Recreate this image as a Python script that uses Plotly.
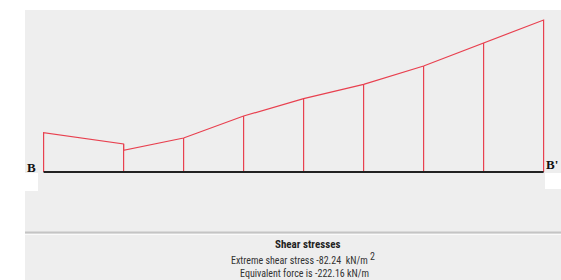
import plotly.graph_objects as go

# Data
positions = [0, 4, 4, 7, 10, 13, 16, 19, 22, 25]          # station along B-B' (m, approx.)
shear = [-21.27, -15.15, -11.74, -18.40, -30.30, -39.66, -47.45, -57.35, -69.80, -82.24]  # kN/m2
stations = [0, 4, 7, 10, 13, 16, 19, 22, 25]
title_text = "Shear stresses"
line2 = "Extreme shear stress -82.24  kN/m <sup><span style='font-size:10px'>2</span></sup>"
line3 = "Equivalent force is -222.16 kN/m"

W, H = 561, 280
red = "#e8404f"

fig = go.Figure()

# profile outline
ox = [positions[0]] + positions + [positions[-1]]
oy = [0] + shear + [0]
fig.add_trace(go.Scatter(x=ox, y=oy, mode="lines", line=dict(color=red, width=1.2),
                         hoverinfo="skip", showlegend=False))

# vertical ordinates at stations
vx, vy = [], []
for s in stations[1:-1]:
    vals = [v for p, v in zip(positions, shear) if p == s]
    top = min(vals)
    vx += [s, s, None]
    vy += [0, top, None]
fig.add_trace(go.Scatter(x=vx, y=vy, mode="lines", line=dict(color=red, width=1.2),
                         hoverinfo="skip", showlegend=False))

# baseline B-B'
fig.add_trace(go.Scatter(x=[stations[0], stations[-1]], y=[0, 0], mode="lines",
                         line=dict(color="#222222", width=2.2), hoverinfo="skip", showlegend=False))

# axis mapping: 20 px per m, baseline at 172 px
pxu = 20.0
x0px = 43.6
xr = [-x0px / pxu, stations[-1] + (W - (x0px + stations[-1] * pxu)) / pxu]
k = 82.24 / 152.0
yr = [(H - 172) * k, -172 * k]

def py(p):
    return 1 - p / H

def pxp(p):
    return p / W

shapes = [
    dict(type="rect", xref="paper", yref="paper", x0=pxp(25), x1=1, y0=0, y1=py(10),
         fillcolor="#eeeeee", line=dict(width=0), layer="below"),
    dict(type="rect", xref="paper", yref="paper", x0=pxp(25), x1=pxp(38), y0=py(191), y1=py(173),
         fillcolor="#ffffff", line=dict(width=0), layer="below"),
    dict(type="rect", xref="paper", yref="paper", x0=pxp(545), x1=1, y0=py(189), y1=py(173),
         fillcolor="#ffffff", line=dict(width=0), layer="below"),
    dict(type="line", xref="paper", yref="paper", x0=pxp(25), x1=1, y0=py(232.5), y1=py(232.5),
         line=dict(color="#c4c4c4", width=2), layer="below"),
    dict(type="line", xref="paper", yref="paper", x0=pxp(25), x1=1, y0=py(234.5), y1=py(234.5),
         line=dict(color="#fafafa", width=1), layer="below"),
]

font_txt = "Liberation Sans Narrow, Arial Narrow, Roboto Condensed, sans-serif"

def ann(text, x, y, family, size, color):
    return dict(text=text, xref="paper", yref="paper", x=pxp(x), y=py(y), showarrow=False,
                xanchor="center", yanchor="middle",
                font=dict(family=family, size=size, color=color))

serif = "Liberation Serif, DejaVu Serif, serif"
annotations = [
    ann("<b>B</b>", 31, 167.5, serif, 13, "#111111"),
    ann("<b>B'</b>", 552, 164, serif, 13, "#111111"),
    ann("<b>" + title_text + "</b>", 307, 244, font_txt, 11, "#222222"),
    ann(line2, 303, 258, font_txt, 10, "#333333"),
    ann(line3, 304, 273, font_txt, 10, "#333333"),
]

fig.update_layout(
    width=W, height=H, margin=dict(l=0, r=0, t=0, b=0),
    paper_bgcolor="#ffffff", plot_bgcolor="rgba(0,0,0,0)",
    xaxis=dict(range=xr, visible=False, fixedrange=True),
    yaxis=dict(range=yr, visible=False, fixedrange=True),
    shapes=shapes, annotations=annotations, showlegend=False,
)

fig.write_html("out.html", config={"displayModeBar": False},
               post_script="document.body.style.margin='0';document.body.style.overflow='hidden';")
